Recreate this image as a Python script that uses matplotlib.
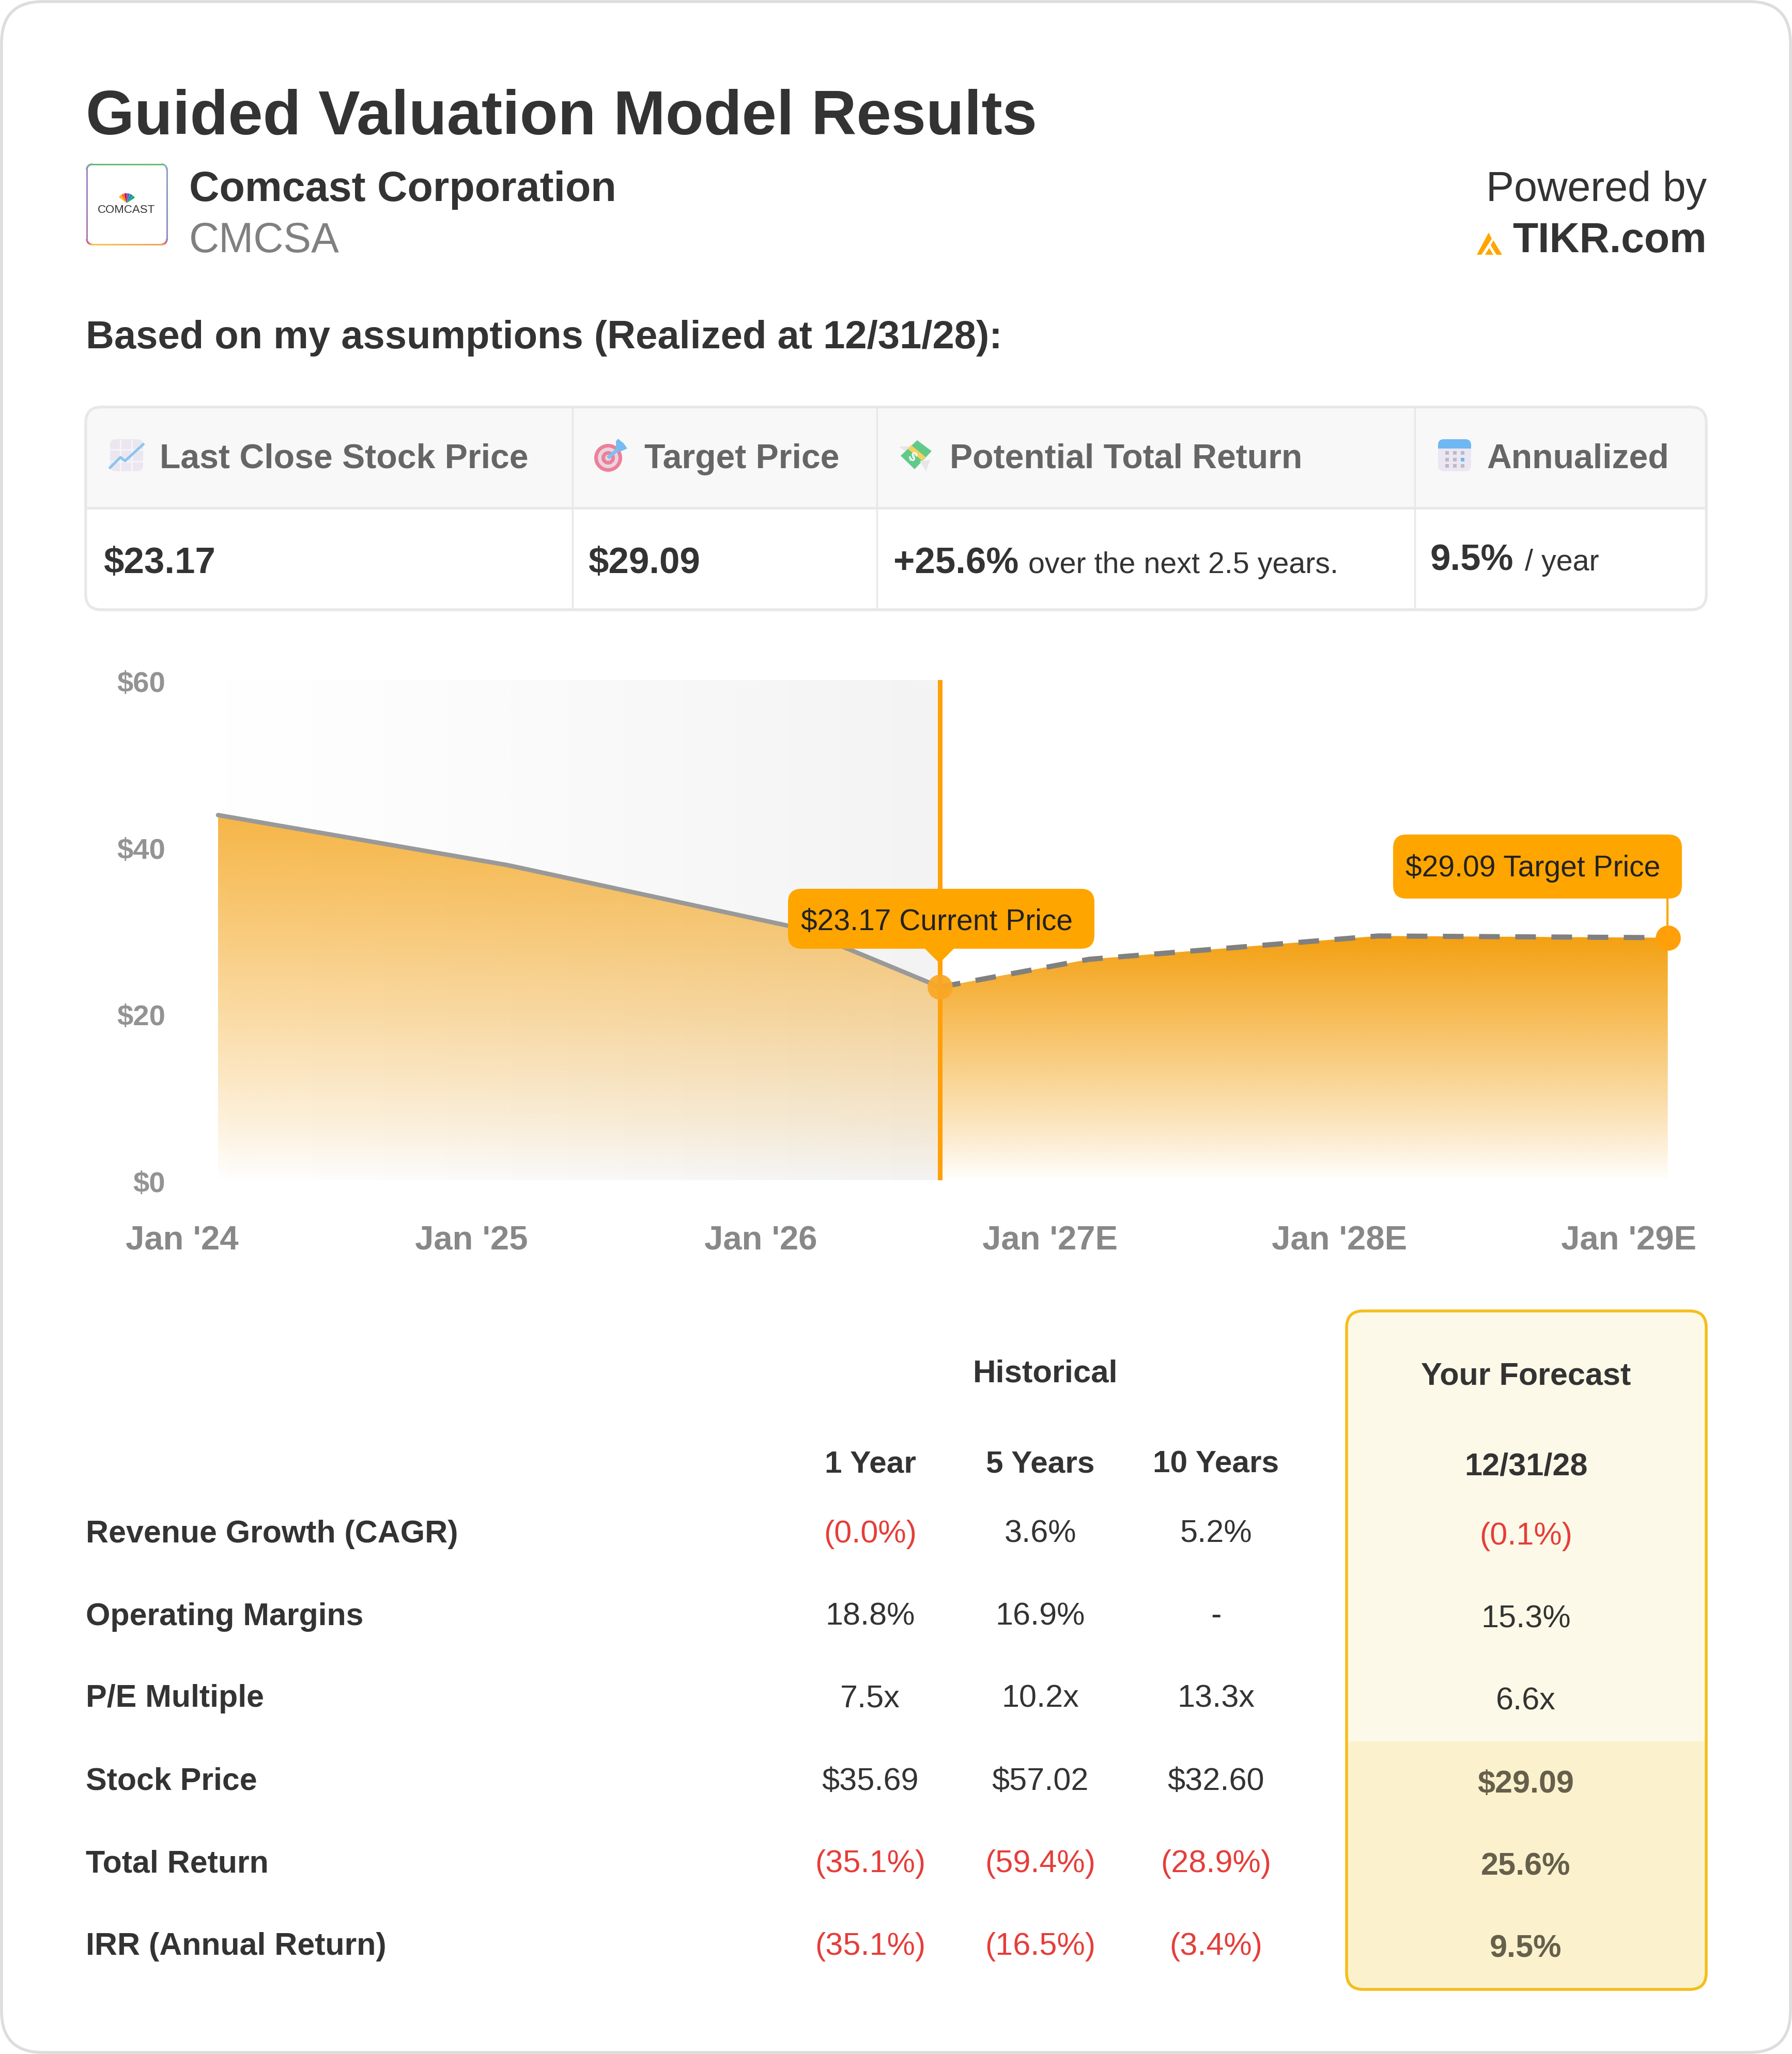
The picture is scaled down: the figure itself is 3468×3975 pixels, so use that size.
import numpy as np
import matplotlib
matplotlib.use("Agg")
import matplotlib.pyplot as plt
from matplotlib.patches import FancyBboxPatch, Polygon, Rectangle, Circle, Wedge
from matplotlib.colors import to_rgb
from matplotlib.transforms import ScaledTranslation

plt.rcParams['font.family'] = ['Liberation Sans', 'DejaVu Sans']

# price chart, x is years since Jan '24
hist_x = [0.125, 1.125, 2.125, 2.62]
hist_y = [43.8, 37.8, 30.3, 23.17]
fcst_x = [2.62, 3.135, 4.135, 5.135]
fcst_y = [23.17, 26.5, 29.3, 29.09]
xtick_pos = [0, 1, 2, 3, 4, 5]
xtick_labels = ["Jan '24", "Jan '25", "Jan '26", "Jan '27E", "Jan '28E", "Jan '29E"]
ytick_pos = [0, 20, 40, 60]
ytick_labels = ["$0", "$20", "$40", "$60"]

# summary table
summary_heads = ["Last Close Stock Price", "Target Price", "Potential Total Return", "Annualized"]
summary_vals = ["$23.17", "$29.09", "+25.6%", "9.5%"]
summary_notes = ["", "", "over the next 2.5 years.", "/ year"]

# results table
row_labels = ["Revenue Growth (CAGR)", "Operating Margins", "P/E Multiple",
              "Stock Price", "Total Return", "IRR (Annual Return)"]
hist_heads = ["1 Year", "5 Years", "10 Years"]
hist_1y = ["(0.0%)", "18.8%", "7.5x", "$35.69", "(35.1%)", "(35.1%)"]
hist_5y = ["3.6%", "16.9%", "10.2x", "$57.02", "(59.4%)", "(16.5%)"]
hist_10y = ["5.2%", "-", "13.3x", "$32.60", "(28.9%)", "(3.4%)"]
forecast = ["(0.1%)", "15.3%", "6.6x", "$29.09", "25.6%", "9.5%"]

W, H = 3468, 3975
DARK = '#333333'
ORANGE = '#ffa500'
RED = '#e53e3a'

fig = plt.figure(figsize=(W / 100, H / 100), dpi=100, facecolor='white')


def px_axes(zorder):
    a = fig.add_axes([0, 0, 1, 1], zorder=zorder)
    a.set_xlim(0, W)
    a.set_ylim(H, 0)
    a.axis('off')
    a.patch.set_alpha(0)
    return a


def round_box(a, x0, y0, x1, y1, r, fc, ec='none', lw=0, z=1):
    p = FancyBboxPatch((x0 + r, y0 + r), x1 - x0 - 2 * r, y1 - y0 - 2 * r,
                       boxstyle="round,pad=%f,rounding_size=%f" % (r, r),
                       fc=fc, ec=ec, lw=lw, zorder=z)
    a.add_patch(p)
    return p


bg = px_axes(0)
top = px_axes(5)

# card
round_box(bg, 3, 3, W - 3, H - 3, 80, 'white', '#dddddd', 4)

# header
bg.text(166, 228, "Guided Valuation Model Results", fontsize=87, fontweight='bold',
        color=DARK, va='center')
bg.text(366, 368, "Comcast Corporation", fontsize=58.2, fontweight='bold', color=DARK, va='center')
bg.text(366, 467, "CMCSA", fontsize=58, color='#808080', va='center')
bg.text(3303, 368, "Powered by", fontsize=58.2, color=DARK, va='center', ha='right')
bg.text(3303, 467, "TIKR.com", fontsize=58, fontweight='bold', color=DARK, va='center', ha='right')
bg.text(166, 654, "Based on my assumptions (Realized at 12/31/28):", fontsize=54.7,
        fontweight='bold', color=DARK, va='center')

# comcast logo, thin rainbow border around a rounded box
lx0, ly0, lx1, ly1, lr = 168, 318, 323, 473, 10
arc = np.linspace(0, np.pi / 2, 6)
outline = np.vstack([
    np.column_stack([lx0 + lr - lr * np.cos(arc), ly0 + lr - lr * np.sin(arc)]),
    np.column_stack([lx1 - lr + lr * np.sin(arc), ly0 + lr - lr * np.cos(arc)]),
    np.column_stack([lx1 - lr + lr * np.cos(arc), ly1 - lr + lr * np.sin(arc)]),
    np.column_stack([lx0 + lr - lr * np.sin(arc), ly1 - lr + lr * np.cos(arc)]),
    [[lx0, ly0 + lr]],
])
rim = [(0, '#9a8cc8'), (0.25, '#6cc070'), (0.38, '#8fc0c8'), (0.5, '#8f8fc0'), (0.62, '#d9607a'),
       (0.75, '#f2c94c'), (0.87, '#d9607a'), (1, '#9a8cc8')]
dense = []
for (px, py), (qx, qy) in zip(outline[:-1], outline[1:]):
    for t in np.linspace(0, 1, 12, endpoint=False):
        dense.append((px + (qx - px) * t, py + (qy - py) * t))
dense.append(tuple(outline[-1]))
for i in range(len(dense) - 1):
    t = i / (len(dense) - 1)
    rgb = [np.interp(t, [s for s, _ in rim], [to_rgb(c)[k] for _, c in rim]) for k in range(3)]
    bg.plot([dense[i][0], dense[i + 1][0]], [dense[i][1], dense[i + 1][1]], color=rgb, lw=2.2,
            solid_capstyle='round')
for i, c in enumerate(['#fcb711', '#f37021', '#cc004c', '#6460aa', '#0089d0', '#0db14b']):
    bg.add_patch(Wedge((245, 393), 19, 218 + i * 18.5, 218 + (i + 1) * 18.5 - 2, fc=c, ec='none'))
bg.text(245, 407, "COMCAST", fontsize=16, color=DARK, ha='center', va='center')

# tikr logo
bg.add_patch(Polygon([[2858, 493], [2881, 450], [2887, 462], [2867, 493]], fc=ORANGE, ec='none'))
bg.add_patch(Polygon([[2890, 465], [2907, 493], [2896, 493], [2885, 475]], fc=ORANGE, ec='none'))
bg.add_patch(Polygon([[2874, 493], [2882, 480], [2890, 493]], fc=ORANGE, ec='none'))

# summary table
round_box(bg, 166, 788, 3302, 1180, 30, 'white', '#e8e8e8', 4, z=1)
round_box(bg, 168, 790, 3300, 1100, 28, '#f8f8f8', z=1.1)
bg.add_patch(Rectangle((168, 983), 3132, 190, fc='white', ec='none', zorder=1.2))
bg.plot([168, 3300], [983, 983], color='#e8e8e8', lw=3.5, zorder=2)
round_box(bg, 166, 788, 3302, 1180, 30, 'none', '#e8e8e8', 3.5, z=2)
for dx in [1108, 1697, 2738]:
    bg.plot([dx, dx], [790, 1178], color='#e8e8e8', lw=2.5, zorder=2)
for hx, t in zip([309, 1247, 1838, 2877], summary_heads):
    bg.text(hx, 889, t, fontsize=47.6, fontweight='bold', color='#666666', va='center', zorder=3)
val_x = [200, 1138, 1729, 2768]
note_x = [0, 0, 1990, 2951]
val_y = [1091, 1091, 1091, 1085]
note_y = [1093, 1093, 1094, 1089]
for vx, nx, vy, ny, v, n in zip(val_x, note_x, val_y, note_y, summary_vals, summary_notes):
    bg.text(vx, vy, v, fontsize=51, fontweight='bold', color=DARK, va='center', zorder=3)
    if n:
        bg.text(nx, ny, n, fontsize=41.3, color=DARK, va='center', zorder=3)

# icons in the header row
# chart
round_box(bg, 213, 850, 277, 912, 11, '#ebe7f0', z=3)
for gx in [233, 255]:
    bg.plot([gx, gx], [852, 910], color='#f7f5fa', lw=2, zorder=3.1)
for gy in [870, 893]:
    bg.plot([215, 275], [gy, gy], color='#f7f5fa', lw=2, zorder=3.1)
bg.plot([213, 233, 242, 277], [905, 885, 892, 860], color='#8cc4f0', lw=3.6, zorder=3.2)
# target
for r, c in zip([27, 20, 13, 6], ['#ee7f9b', '#e8d5e0', '#ee7f9b', '#e8d5e0']):
    bg.add_patch(Circle((1177, 886), r, fc=c, ec='none', zorder=3))
bg.plot([1179, 1200], [884, 866], color='#7cc2ee', lw=5, zorder=3.2)
bg.add_patch(Polygon([[1192, 854], [1196, 849], [1207, 858], [1214, 868], [1200, 874], [1192, 868]],
                     fc='#74bdf0', ec='none', zorder=3.3))
# money
bg.add_patch(Polygon([[1740, 864], [1762, 864], [1755, 876]], fc='#e6e6e6', ec='none', zorder=2.9))
bg.add_patch(Polygon([[1780, 892], [1800, 890], [1792, 912]], fc='#e6e6e6', ec='none', zorder=3.3))
bg.add_patch(Polygon([[1743, 882], [1775, 852], [1803, 873], [1770, 908]], fc='#62c98a', ec='none', zorder=3))
bg.plot([1760, 1788], [865, 888], color='#f4d35e', lw=7, zorder=3.1, solid_capstyle='butt')
bg.text(1765, 885, "$", fontsize=17, color='white', fontweight='bold', ha='center', va='center', rotation=-40, zorder=3.2)
# calendar
round_box(bg, 2783, 850, 2847, 890, 11, '#6fb7f2', z=3)
round_box(bg, 2783, 860, 2847, 912, 11, '#ebe7f2', z=3)
bg.add_patch(Rectangle((2783, 860), 64, 8, fc='#6fb7f2', ec='none', zorder=3.05))
for gx in [2800, 2815, 2830]:
    for gy in [876, 889, 901]:
        c = '#6fb7f2' if (gx, gy) == (2830, 889) else '#bdbac6'
        bg.add_patch(Rectangle((gx - 3.5, gy - 3.5), 7, 7, fc=c, ec='none', zorder=3.2))

# price chart
ax_left, ax_right, ax_top, ax_bot = 352, 3304, 1316, 2284
ax = fig.add_axes([ax_left / W, 1 - ax_bot / H, (ax_right - ax_left) / W, (ax_bot - ax_top) / H], zorder=2)
ax.patch.set_alpha(0)
x_max = (ax_right - ax_left) / 560.0

grey = np.ones((1, 256, 4))
grey[..., :3] = to_rgb('#f3f3f3')
grey[..., 3] = np.linspace(0, 1, 256) ** 1.2
ax.imshow(grey, extent=[hist_x[0], fcst_x[0], 0, 60], aspect='auto', zorder=1, interpolation='bilinear')


def grad_area(xs, ys, alpha_top, z):
    # vertical gradient clipped to the area under the line
    g = np.ones((256, 1, 4))
    g[..., :3] = to_rgb('#f4a010')
    g[..., 3] = (np.linspace(0, alpha_top, 256) ** 0.9).reshape(-1, 1)
    im = ax.imshow(g, extent=[min(xs), max(xs), 0, max(ys)], origin='lower', aspect='auto',
                   zorder=z, interpolation='bilinear')
    poly = Polygon(np.column_stack([xs + [xs[-1], xs[0]], ys + [0, 0]]), transform=ax.transData, fc='none', ec='none')
    ax.add_patch(poly)
    im.set_clip_path(poly)


grad_area(hist_x, hist_y, 0.75, 2)
grad_area(fcst_x, fcst_y, 1.0, 2)
ax.plot(hist_x, hist_y, color='#999999', lw=6.2, zorder=3, solid_joinstyle='round', solid_capstyle='round')
ax.plot(fcst_x, fcst_y, color='#808080', lw=7.2, zorder=3, dashes=(4.0, 3.0))
ax.axvline(fcst_x[0], color='#ff9f0a', lw=6.5, zorder=4)

ax.set_xlim(0, x_max)
ax.set_ylim(0, 60)
ax.set_xticks(xtick_pos, xtick_labels)
ax.set_yticks(ytick_pos, ytick_labels)
ax.tick_params(length=0)
ax.tick_params(axis='x', pad=63, labelsize=47, labelcolor='#888888')
ax.tick_params(axis='y', pad=23, labelsize=40.5, labelcolor='#939393')
for lab in ax.get_xticklabels():
    lab.set_fontweight('bold')
shift = ScaledTranslation(0, -0.03, fig.dpi_scale_trans)
for lab in ax.get_yticklabels():
    lab.set_fontweight('bold')
    lab.set_transform(lab.get_transform() + shift)
for s in ax.spines.values():
    s.set_visible(False)
ax.plot([fcst_x[0]], [fcst_y[0]], 'o', ms=35, color='#f9a825', mec='none', zorder=6, alpha=0.95)
ax.plot([fcst_x[-1]], [fcst_y[-1]], 'o', ms=35, color='#ff9f0a', mec='none', zorder=6, clip_on=False)

# callouts
round_box(top, 1525, 1720, 2118, 1836, 26, ORANGE)
top.add_patch(Polygon([[1788, 1834], [1848, 1834], [1818, 1864]], fc=ORANGE, ec='none'))
top.text(1813, 1785, "$%.2f Current Price" % fcst_y[0], fontsize=41, color='#222222', ha='center', va='center')
round_box(top, 2696, 1615, 3255, 1739, 26, ORANGE)
top.plot([3227, 3227], [1737, 1800], color=ORANGE, lw=3)
top.text(2967, 1681, "$%.2f Target Price" % fcst_y[-1], fontsize=41, color='#222222', ha='center', va='center')

# results table
row_y = [2969, 3129, 3288, 3448, 3608, 3767]
col_x = [1684, 2013, 2353]
bg.text(2023, 2659, "Historical", fontsize=44.4, fontweight='bold', color=DARK, ha='center', va='center')
for cx, t in zip(col_x, hist_heads):
    bg.text(cx, 2834, t, fontsize=43.5, fontweight='bold', color=DARK, ha='center', va='center')
for ry, t in zip(row_y, row_labels):
    bg.text(166, ry, t, fontsize=43.8, fontweight='bold', color=DARK, va='center')
for cx, col in zip(col_x, [hist_1y, hist_5y, hist_10y]):
    for ry, v in zip(row_y, col):
        bg.text(cx, ry, v, fontsize=44, color=RED if v.startswith('(') else DARK, ha='center', va='center')

# forecast column
round_box(bg, 2606, 2537, 3302, 3850, 32, '#fdf9e8', z=1)
bg.add_patch(Rectangle((2606, 3370), 696, 440, fc='#fbf2cd', ec='none', zorder=1.1))
round_box(bg, 2606, 3600, 3302, 3850, 32, '#fbf2cd', z=1.1)
round_box(bg, 2606, 2537, 3302, 3850, 32, 'none', '#f4be1b', 4, z=1.2)
bg.text(2953, 2664, "Your Forecast", fontsize=44, fontweight='bold', color=DARK, ha='center', va='center', zorder=3)
bg.text(2953, 2839, "12/31/28", fontsize=44, fontweight='bold', color=DARK, ha='center', va='center', zorder=3)
for i, (ry, v) in enumerate(zip(row_y, forecast)):
    c = RED if v.startswith('(') else (DARK if i < 3 else '#665f4c')
    bg.text(2953, ry + 5, v, fontsize=44, color=c, ha='center', va='center', zorder=3,
            fontweight='bold' if i >= 3 else 'normal')

fig.savefig('out.png', dpi=100)
